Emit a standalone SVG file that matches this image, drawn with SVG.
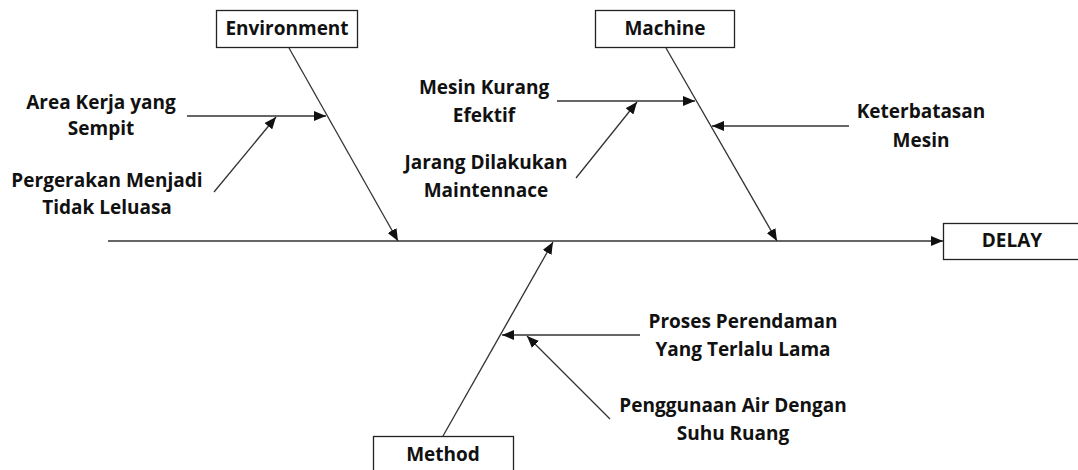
<svg xmlns="http://www.w3.org/2000/svg" width="1078" height="470" viewBox="0 0 1078 470">
<style>
.box{fill:#fff;stroke:#222;stroke-width:1.3}
.t{font-family:"Open Sans","Liberation Sans",sans-serif;font-weight:bold;font-size:19px;fill:#111;text-anchor:middle;dominant-baseline:central}
.c{stroke:#333;stroke-width:1.3;fill:none;marker-end:url(#ah)}
</style>
<defs>
<marker id="ah" viewBox="0 0 12 10" refX="12" refY="5" markerWidth="12" markerHeight="10" markerUnits="userSpaceOnUse" orient="auto">
<path d="M0,0 L12,5 L0,10 z" fill="#111"/>
</marker>
</defs>
<rect width="1078" height="470" fill="#fff"/>
<g id="connectors">
<line class="c" x1="108" y1="241" x2="943" y2="241"/>
<line class="c" x1="289" y1="48" x2="398" y2="241"/>
<line class="c" x1="666" y1="48" x2="777" y2="241"/>
<line class="c" x1="443" y1="436" x2="553" y2="242"/>
<line class="c" x1="187" y1="116" x2="326" y2="116"/>
<line class="c" x1="214" y1="192" x2="276" y2="117"/>
<line class="c" x1="557" y1="101" x2="695" y2="101"/>
<line class="c" x1="576" y1="178" x2="637" y2="102"/>
<line class="c" x1="849" y1="126" x2="712" y2="126"/>
<line class="c" x1="640" y1="335" x2="502" y2="335"/>
<line class="c" x1="610" y1="419" x2="527" y2="336"/>
</g>
<g id="environment">
<rect class="box" x="216.5" y="10.5" width="141" height="37"/>
<text class="t" x="287" y="28">Environment</text>
</g>
<g id="machine">
<rect class="box" x="595.5" y="10.5" width="139" height="37"/>
<text class="t" x="665" y="28">Machine</text>
</g>
<g id="method">
<rect class="box" x="373.5" y="436.5" width="140" height="40"/>
<text class="t" x="443" y="454">Method</text>
</g>
<g id="delay">
<rect class="box" x="943.5" y="223.5" width="140" height="36"/>
<text class="t" x="1012" y="240">DELAY</text>
</g>
<g id="area-kerja">
<text class="t" x="101" y="102">Area Kerja yang</text>
<text class="t" x="101" y="128">Sempit</text>
</g>
<g id="pergerakan">
<text class="t" x="107" y="180">Pergerakan Menjadi</text>
<text class="t" x="107" y="207">Tidak Leluasa</text>
</g>
<g id="mesin-kurang">
<text class="t" x="484" y="87">Mesin Kurang</text>
<text class="t" x="484" y="115">Efektif</text>
</g>
<g id="jarang">
<text class="t" x="486" y="162">Jarang Dilakukan</text>
<text class="t" x="486" y="190">Maintennace</text>
</g>
<g id="keterbatasan">
<text class="t" x="921" y="111">Keterbatasan</text>
<text class="t" x="921" y="140">Mesin</text>
</g>
<g id="proses">
<text class="t" x="743" y="321">Proses Perendaman</text>
<text class="t" x="743" y="349">Yang Terlalu Lama</text>
</g>
<g id="penggunaan">
<text class="t" x="733" y="405">Penggunaan Air Dengan</text>
<text class="t" x="733" y="433">Suhu Ruang</text>
</g>
</svg>
